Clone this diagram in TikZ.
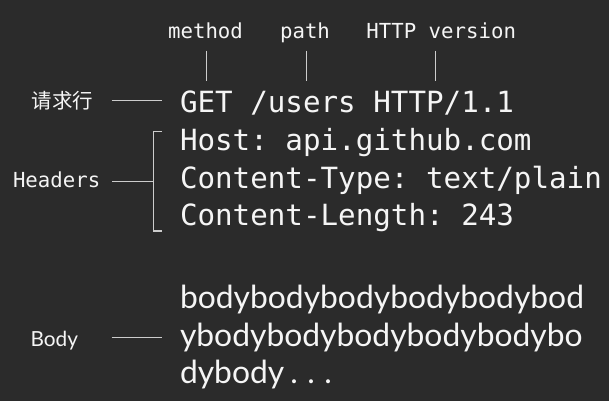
\documentclass[tikz,border=0pt]{standalone}
\usepackage{fontspec}
\setmonofont{DejaVu Sans Mono}
\newfontfamily\bodyfont{Lato}
\newfontfamily\cjkfont{Noto Sans CJK SC}
\definecolor{bg}{RGB}{43,43,43}
\definecolor{fg}{RGB}{245,245,245}
\definecolor{ln}{RGB}{205,205,205}
\newlength\bodyw
\begin{document}
\settowidth{\bodyw}{\bodyfont\fontsize{20pt}{24pt}\selectfont bodybodybodybodybodybod}%
\pgfmathsetmacro\bsz{20*404/\bodyw}%
\begin{tikzpicture}[x=1pt,y=-1pt,
  every node/.style={inner sep=0pt,outer sep=0pt,text=fg},
  toplbl/.style={anchor=base,font=\ttfamily\fontsize{20.7pt}{22pt}\selectfont},
  codeln/.style={anchor=base west,font=\ttfamily\fontsize{29.2pt}{30pt}\selectfont},
  sidelbl/.style={anchor=base west},
  bodyln/.style={anchor=base west,font=\bodyfont\fontsize{\bsz pt}{\bsz pt}\selectfont},
  conn/.style={draw=ln,line width=1.1pt}]
\fill[bg] (0,0) rectangle (609,401);
\useasboundingbox (0,0) rectangle (609,401);
% top labels
\node[toplbl] (mth) at (205.5,38.5) {method};
\node[toplbl] (pth) at (305,38.5) {path};
\node[toplbl] (ver) at (441.2,38.5) {HTTP version};
% request
\node[codeln] (req) at (180,112) {GET /users HTTP/1.1};
\node[codeln] (host) at (180,150) {Host: api.github.com};
\node[codeln] (ctype) at (180,188) {Content-Type: text/plain};
\node[codeln] (clen) at (180,225.5) {Content-Length: 243};
% body
\node[bodyln] (b1) at (180,308) {bodybodybodybodybodybod};
\node[bodyln] (b2) at (180,346) {ybodybodybodybodybodybo};
\node[bodyln] (b3) at (180,383.5) {dybody\kern6pt.\kern9.5pt.\kern9.5pt.};
% side labels
\node[sidelbl,font=\cjkfont\fontsize{20.5pt}{22pt}\selectfont] (lreq) at (31.5,108.5) {请求行};
\node[sidelbl,font=\ttfamily\fontsize{20.7pt}{22pt}\selectfont] (lhdr) at (13,187) {Headers};
\node[sidelbl,font=\bodyfont\fontsize{20.8pt}{22pt}\selectfont] (lbody) at (30.5,346) {Body};
% tick coordinates
\coordinate (t1a) at (206.7,50.7); \coordinate (t1b) at (206.7,81);
\coordinate (t2a) at (306.7,50.7); \coordinate (t2b) at (306.7,81);
\coordinate (t3a) at (435.3,50.7); \coordinate (t3b) at (435.3,81);
\draw[conn] (t1a) -- (t1b);
\draw[conn] (t2a) -- (t2b);
\draw[conn] (t3a) -- (t3b);
% side connectors
\coordinate (r1) at (111.7,100.5); \coordinate (r2) at (161.7,100.5);
\draw[conn] (r1) -- (r2);
\coordinate (h1) at (112,181.5); \coordinate (h2) at (153.3,181.5);
\draw[conn] (h1) -- (h2);
\coordinate (bt) at (153.3,131.7); \coordinate (bb) at (153.3,231);
\draw[conn] ([xshift=8.4pt]bt) -- (bt) -- (bb) -- ([xshift=8.4pt]bb);
\coordinate (y1) at (111.7,337.7); \coordinate (y2) at (161.7,337.7);
\draw[conn] (y1) -- (y2);
\end{tikzpicture}
\end{document}
